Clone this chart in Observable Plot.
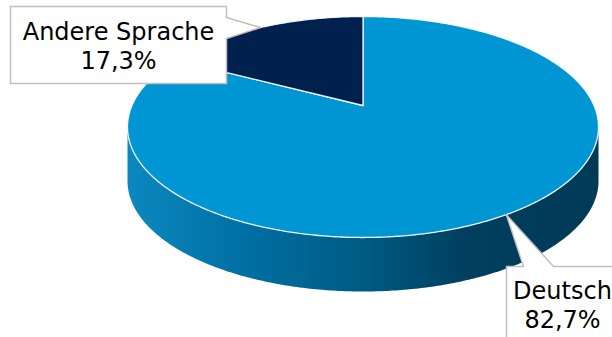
<!DOCTYPE html>
<html><head><meta charset="utf-8">
<script src="https://cdn.jsdelivr.net/npm/d3@7"></script>
<script src="https://cdn.jsdelivr.net/npm/@observablehq/plot@0.6"></script>
<style>html,body{margin:0;padding:0;background:#fff;overflow:hidden}</style>
</head><body><div id="chart"></div>
<script>
// ---- data ----
const categories = ["Deutsch", "Andere Sprache"];
const shares = [82.7, 17.3];
const shareLabels = ["82,7%", "17,3%"];

// ---- layout (3D pie projection) ----
const W = 612, H = 337;
const CX = 362.5, CY = 105, RX = 231, RY = 106.3, K = 0.1946, DEPTH = 54;
function proj(t, r, dz) { // t: angle clockwise from 12 o'clock
  const u = r * Math.sin(t), v = -r * Math.cos(t);
  const w = 1 - K * v;
  return [CX + RX * u / w, CY + RY * v / w + dz];
}
const total = d3.sum(shares);
let acc = 0;
const slices = categories.map((c, i) => {
  const a0 = acc / total * 2 * Math.PI; acc += shares[i];
  const a1 = acc / total * 2 * Math.PI;
  return {category: c, a0, a1, mid: (a0 + a1) / 2, label: c + "\n" + shareLabels[i]};
});

// top faces
const topPts = [];
slices.forEach(s => {
  const n = Math.max(8, Math.ceil((s.a1 - s.a0) / 0.01));
  const [x0, y0] = proj(0, 0, 0);
  topPts.push({category: s.category, x: x0, y: y0});
  for (let j = 0; j <= n; j++) {
    const [x, y] = proj(s.a0 + (s.a1 - s.a0) * j / n, 1, 0);
    topPts.push({category: s.category, x, y});
  }
});

// visible side (front arc)
const tRight = Math.PI / 2 + Math.asin(K), tLeft = 3 * Math.PI / 2 - Math.asin(K);
const sidePts = [];
slices.forEach(s => {
  const lo = Math.max(s.a0, tRight), hi = Math.min(s.a1, tLeft);
  if (lo >= hi) return;
  const n = Math.ceil((hi - lo) / 0.01);
  for (let j = 0; j <= n; j++) {
    const [x, y] = proj(lo + (hi - lo) * j / n, 1, 0);
    sidePts.push({category: s.category, x, y});
  }
  for (let j = n; j >= 0; j--) {
    const [x, y] = proj(lo + (hi - lo) * j / n, 1, DEPTH);
    sidePts.push({category: s.category, x, y});
  }
});

// callout boxes (layout per category)
const boxLayout = {
  "Andere Sprache": {x0: 10, x1: 226, y0: 6, y1: 83, side: "right", p0: 17, p1: 38, tx: 118, ty: 68},
  "Deutsch": {x0: 506, x1: 640, y0: 266, y1: 360, side: "top", p0: 523, p1: 553, tx: 562, ty: 327}
};
const boxPts = [];
const labelRows = [];
slices.forEach(s => {
  const b = boxLayout[s.category];
  const [tx, ty] = proj(s.mid, 1, 0);
  let pts;
  if (b.side === "right") {
    pts = [[b.x0, b.y0], [b.x1, b.y0], [b.x1, b.p0], [tx, ty], [b.x1, b.p1], [b.x1, b.y1], [b.x0, b.y1]];
  } else {
    pts = [[b.x0, b.y0], [b.p0, b.y0], [tx, ty], [b.p1, b.y0], [b.x1, b.y0], [b.x1, b.y1], [b.x0, b.y1]];
  }
  pts.forEach(([x, y]) => boxPts.push({category: s.category, x, y}));
  labelRows.push({x: b.tx, y: b.ty, label: s.label});
});

function gradientDefs() {
  const ns = "http://www.w3.org/2000/svg";
  const defs = document.createElementNS(ns, "defs");
  const g = document.createElementNS(ns, "linearGradient");
  g.setAttribute("id", "sideGrad");
  g.setAttribute("x1", "0"); g.setAttribute("x2", "1");
  g.setAttribute("y1", "0"); g.setAttribute("y2", "0");
  [[0, "#0B88C0"], [0.25, "#006FA2"], [0.5, "#005B83"], [0.72, "#003F5F"], [1, "#003A56"]].forEach(([o, c]) => {
    const st = document.createElementNS(ns, "stop");
    st.setAttribute("offset", o); st.setAttribute("stop-color", c);
    g.appendChild(st);
  });
  defs.appendChild(g);
  return defs;
}

const chart = Plot.plot({
  width: W, height: H, margin: 0,
  x: {domain: [0, W], range: [0, W], axis: null},
  y: {domain: [0, H], range: [0, H], axis: null},
  color: {domain: categories, range: ["#0096D4", "#00204E"]},
  style: {background: "#fff", overflow: "hidden"},
  marks: [
    gradientDefs,
    Plot.line(sidePts, {x: "x", y: "y", z: "category", fill: "url(#sideGrad)", stroke: "none", curve: "linear-closed"}),
    Plot.line(topPts, {x: "x", y: "y", z: "category", fill: "category", stroke: "#ffffff", strokeWidth: 1.3, strokeOpacity: 0.9, curve: "linear-closed"}),
    Plot.line(boxPts, {x: "x", y: "y", z: "category", fill: "#ffffff", stroke: "#BFBFBF", strokeWidth: 1.5, curve: "linear-closed"}),
    Plot.text(labelRows, {x: "x", y: "y", text: "label", lineAnchor: "bottom", lineHeight: 1.2, textAnchor: "middle", fontSize: 24, fontFamily: "DejaVu Sans", fill: "#000"})
  ]
});
document.getElementById("chart").appendChild(chart);
</script>
</body></html>
